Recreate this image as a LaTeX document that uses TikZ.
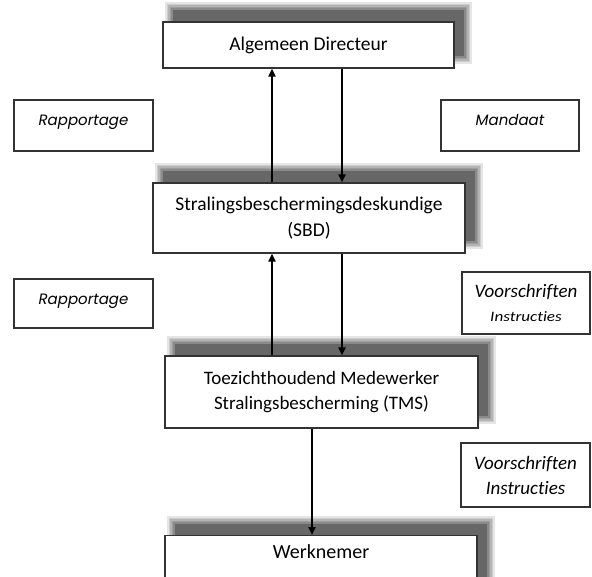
\documentclass[tikz,border=0pt]{standalone}
\usepackage{fontspec}
\usepackage{graphicx}
\setmainfont{Carlito}[Ligatures=NoCommon]
\newfontfamily\geofont{Poppins}
\usetikzlibrary{arrows.meta,backgrounds}
\newcommand\mysoftshadow[1]{%
  \foreach \e/\o in {7/0.1,5.5/0.1,4/0.12,2.5/0.12,1/0.12,-0.5/0.25}{%
    \fill[black,opacity=\o] ([shift={(10-\e,-12+\e)}]#1.south west) rectangle ([shift={(10+\e,-12-\e)}]#1.north east);}}
\begin{document}
\begin{tikzpicture}[x=1pt,y=-1pt,
  mainbox/.style={draw=black!80,line width=1.1pt,fill=white,rectangle,inner sep=0pt,align=center,
    font=\fontsize{19.5}{26}\selectfont},
  sidebox/.style={draw=black!80,line width=1.1pt,fill=white,rectangle,inner sep=0pt,align=center},
  geo/.style={font=\geofont\itshape\fontsize{15}{18}\selectfont},
  arr/.style={line width=2pt,-{Triangle[length=8pt,width=7pt]}}]
\useasboundingbox (0,0) rectangle (592,577);
% main boxes
\node[mainbox,minimum width=291,minimum height=46] (ad) at (308.5,45) {Algemeen Directeur};
\node[mainbox,minimum width=312,minimum height=70] (sbd) at (309,218) {Stralingsbeschermingsdeskundige\\(SBD)};
\node[mainbox,minimum width=313,minimum height=72,font=\fontsize{19}{25}\selectfont] (tms) at (321.5,392) {Toezichthoudend Medewerker\\Stralingsbescherming (TMS)};
\node[mainbox,minimum width=312,minimum height=65,anchor=north,text height=14pt,text depth=38pt,inner ysep=9pt,font=\fontsize{20}{24}\selectfont] (wk) at (321,535) {Werknemer};
% side boxes
\node[sidebox,geo,minimum width=139,minimum height=51,text depth=11pt] (rap1) at (83.5,125.5) {Rapportage};
\node[sidebox,geo,minimum width=138,minimum height=51,text depth=11pt] (man) at (510,125.5) {Mandaat};
\node[sidebox,geo,minimum width=139,minimum height=49,text depth=8pt] (rap2) at (83.5,303.5) {Rapportage};
\node[sidebox,minimum width=128,minimum height=62,font=\itshape\fontsize{19}{24}\selectfont] (voor1) at (526,303) {Voorschriften\\\scalebox{0.95}[0.8]{\fontsize{18}{22}\selectfont Instructies}};
\node[sidebox,minimum width=129,minimum height=64,font=\itshape\fontsize{19}{25}\selectfont] (voor2) at (525.5,475) {Voorschriften\\Instructies};
% shadows behind main boxes
\begin{scope}[on background layer]
  \fill[white] (0,0) rectangle (592,577);
  \mysoftshadow{ad}
  \mysoftshadow{sbd}
  \mysoftshadow{tms}
  \mysoftshadow{wk}
\end{scope}
% connectors
\coordinate (xu) at (272,0);
\coordinate (xd) at (342,0);
\coordinate (xw) at (312,0);
\draw[arr] (sbd.north -| xu) -- (ad.south -| xu);
\draw[arr] (ad.south -| xd) -- (sbd.north -| xd);
\draw[arr] (tms.north -| xu) -- (sbd.south -| xu);
\draw[arr] (sbd.south -| xd) -- (tms.north -| xd);
\draw[arr] (tms.south -| xw) -- (wk.north -| xw);
\end{tikzpicture}
\end{document}
